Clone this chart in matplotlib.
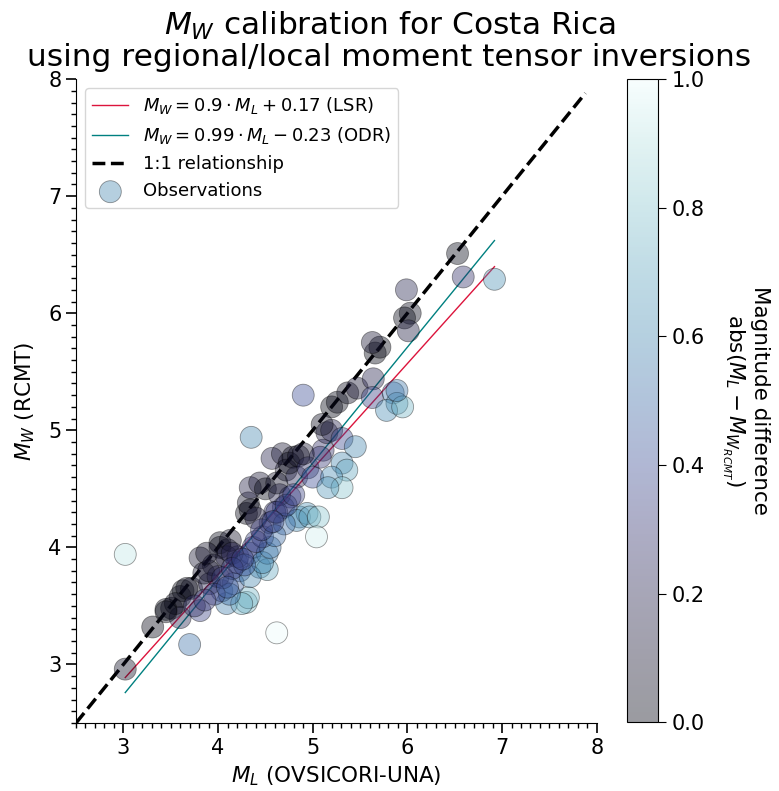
import numpy as np
import matplotlib
matplotlib.use("Agg")
import matplotlib.pyplot as plt
from matplotlib.ticker import MultipleLocator
from matplotlib.colors import LinearSegmentedColormap

# local magnitude (OVSICORI-UNA) and moment magnitude (RCMT)
ML = [4.35, 3.02, 3.02, 3.31, 3.70, 4.62, 3.51, 3.60, 3.63, 3.72,
      3.60, 3.81, 3.81, 3.67, 3.55, 3.45, 4.02, 4.10, 4.02, 4.09,
      4.30, 4.32, 4.04, 4.23, 4.44, 4.52, 4.16, 3.91, 4.34, 4.20,
      4.09, 4.21, 4.34, 4.37, 4.52, 4.47, 4.55, 4.47, 4.55, 4.13,
      3.95, 3.85, 4.00, 4.15, 4.28, 4.30, 4.32, 4.34, 4.34, 4.44,
      4.50, 4.57, 4.68, 4.79, 4.72, 4.83, 4.75, 4.85, 4.95, 5.00,
      4.76, 4.69, 4.86, 4.94, 4.83, 4.97, 5.06, 5.04, 4.60, 4.65,
      4.90, 5.11, 5.08, 5.15, 5.20, 5.31, 5.45, 5.31, 5.36, 5.20,
      5.31, 5.16, 5.20, 5.26, 5.37, 5.47, 5.64, 5.63, 5.66, 5.71,
      5.63, 5.85, 5.89, 5.78, 5.95, 5.89, 5.99, 6.03, 5.97, 6.01,
      6.53, 6.59, 6.92, 3.75, 3.90, 4.25, 4.70, 4.60, 4.90, 5.10,
      3.45, 3.88, 4.12, 4.40, 4.62, 4.05, 4.15, 4.26, 4.40, 4.46,
      4.62, 4.72, 3.96, 3.86, 4.10, 4.58, 4.80]
MW = [4.94, 2.96, 3.94, 3.32, 3.17, 3.27, 3.48, 3.58, 3.63, 3.65,
      3.40, 3.91, 3.46, 3.65, 3.52, 3.47, 4.00, 3.98, 4.04, 3.52,
      3.53, 3.57, 3.63, 3.80, 3.83, 3.81, 3.69, 3.69, 3.75, 3.87,
      3.92, 3.92, 3.95, 4.00, 3.95, 3.87, 4.00, 4.09, 4.21, 4.06,
      3.85, 3.78, 3.75, 3.95, 3.85, 4.29, 4.38, 4.32, 4.51, 4.55,
      4.50, 4.76, 4.80, 4.77, 4.66, 4.60, 4.72, 4.78, 4.68, 4.60,
      4.43, 4.34, 4.26, 4.29, 4.23, 4.26, 4.26, 4.09, 4.30, 4.45,
      5.30, 4.83, 4.77, 4.98, 5.00, 4.93, 4.86, 4.72, 4.66, 4.60,
      4.51, 4.51, 5.20, 5.24, 5.32, 5.36, 5.44, 5.28, 5.66, 5.71,
      5.75, 5.32, 5.23, 5.17, 5.20, 5.34, 6.20, 6.00, 5.96, 5.85,
      6.51, 6.31, 6.29, 3.50, 3.80, 3.52, 4.20, 4.10, 4.80, 5.05,
      3.45, 3.95, 3.60, 4.25, 4.55, 3.74, 3.82, 3.90, 4.05, 4.15,
      4.30, 4.36, 3.60, 3.55, 3.66, 4.22, 4.45]

lsr_slope, lsr_icpt = 0.9, 0.17
odr_slope, odr_icpt = 0.99, -0.23

ML = np.array(ML)
MW = np.array(MW)
diff = np.abs(ML - MW)

# "ice"-like colormap (dark navy -> blue -> pale cyan)
ice_colors = [(0.016, 0.023, 0.073), (0.08, 0.07, 0.18), (0.14, 0.13, 0.30),
              (0.20, 0.20, 0.44), (0.23, 0.30, 0.58), (0.24, 0.42, 0.65),
              (0.28, 0.54, 0.70), (0.38, 0.65, 0.75), (0.53, 0.77, 0.81),
              (0.71, 0.88, 0.88), (0.92, 0.99, 0.99)]
cmap = LinearSegmentedColormap.from_list('ice', ice_colors)

fig = plt.figure(figsize=(7.79, 7.91), dpi=100)
ax = fig.add_axes([0.0976, 0.086, 0.6684, 0.814])
cax = fig.add_axes([0.805, 0.087, 0.040, 0.813])

xfit = np.array([ML.min(), ML.max()])
ax.plot(xfit, lsr_slope * xfit + lsr_icpt, color='crimson', lw=1,
        label=r'$M_W = 0.9 \cdot M_L + 0.17$ (LSR)')
ax.plot(xfit, odr_slope * xfit + odr_icpt, color='teal', lw=1,
        label=r'$M_W = 0.99 \cdot M_L - 0.23$ (ODR)')
one = np.array([2.5, 7.88])
ax.plot(one, one, 'k--', lw=2.5, label='1:1 relationship')
sc = ax.scatter(ML, MW, c=diff, cmap=cmap, vmin=0, vmax=1, s=250, alpha=0.4,
                edgecolors='k', linewidths=0.6, label='Observations', zorder=3)

ax.set_xlim(2.5, 8)
ax.set_ylim(2.5, 8)
ax.xaxis.set_major_locator(MultipleLocator(1))
ax.yaxis.set_major_locator(MultipleLocator(1))
ax.xaxis.set_minor_locator(MultipleLocator(0.1))
ax.yaxis.set_minor_locator(MultipleLocator(0.1))
ax.tick_params(which='major', direction='out', length=7, width=1.2, labelsize=15)
ax.tick_params(which='minor', direction='out', length=3.5, width=1)
ax.spines['top'].set_visible(False)
ax.spines['right'].set_visible(False)
ax.set_xlabel(r'$M_L$ (OVSICORI-UNA)', fontsize=15.5, labelpad=5)
ax.set_ylabel(r'$M_W$ (RCMT)', fontsize=15.5, labelpad=8)
fig.suptitle('$M_W$ calibration for Costa Rica\nusing regional/local moment tensor inversions',
             fontsize=22.5, x=0.5, y=0.988, linespacing=1.05)
ax.legend(loc='upper left', fontsize=13, framealpha=0.8)

cb = fig.colorbar(sc, cax=cax)
cb.set_ticks([0, 0.2, 0.4, 0.6, 0.8, 1.0])
cb.ax.tick_params(labelsize=15, length=6)
cb.set_label('Magnitude difference\n' + r'abs($M_L - M_{W_{RCMT}}$)',
             rotation=270, fontsize=15.5, labelpad=47)

fig.savefig('out.png', dpi=100)
